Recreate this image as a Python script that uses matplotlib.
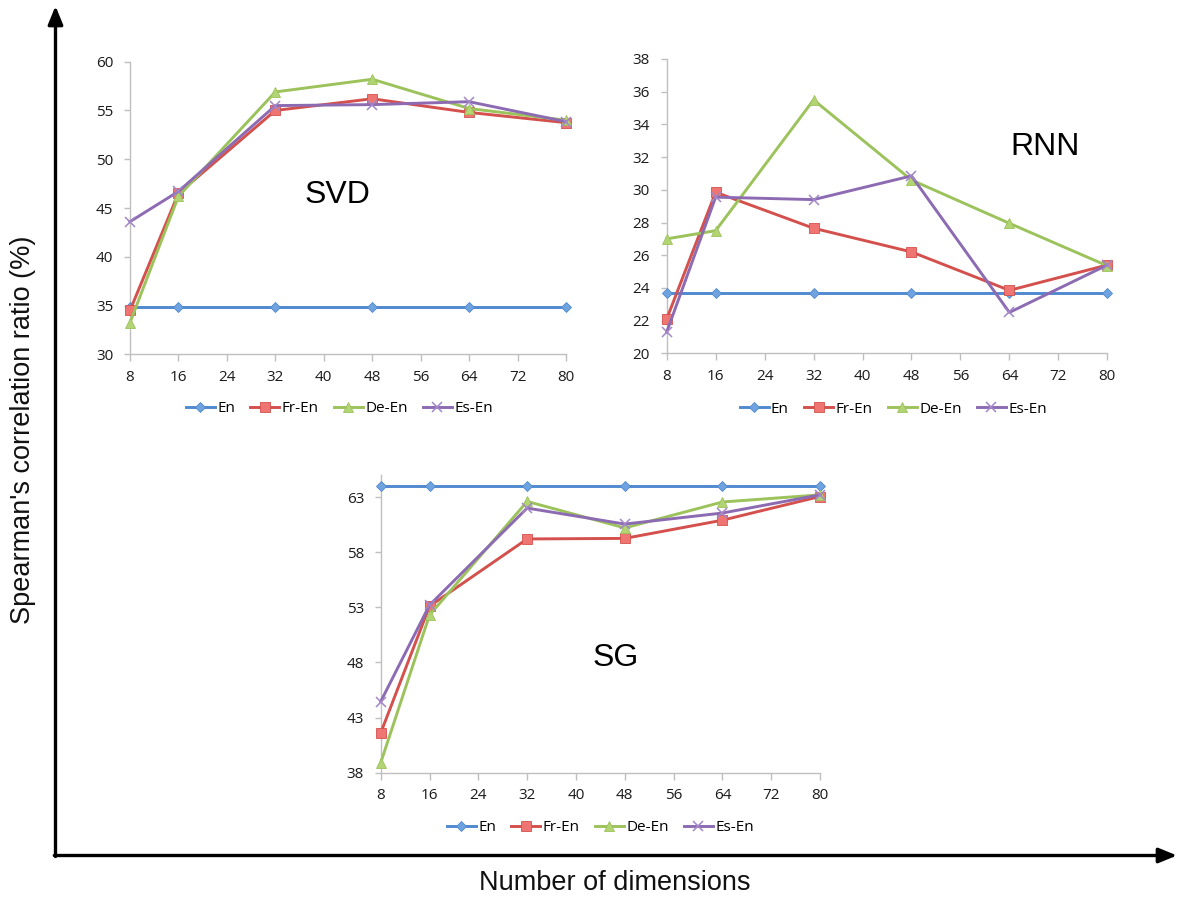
import matplotlib
matplotlib.use("Agg")
import matplotlib.pyplot as plt
import numpy as np

dims = [8, 16, 32, 48, 64, 80]
series_names = ["En", "Fr-En", "De-En", "Es-En"]

svd_en = [34.9, 34.9, 34.9, 34.9, 34.9, 34.9]
svd_fr = [34.5, 46.5, 55.0, 56.2, 54.8, 53.75]
svd_de = [33.25, 46.2, 56.9, 58.2, 55.2, 54.0]
svd_es = [43.6, 46.7, 55.5, 55.6, 55.9, 53.85]

rnn_en = [23.67, 23.67, 23.67, 23.67, 23.67, 23.67]
rnn_fr = [22.1, 29.85, 27.65, 26.2, 23.85, 25.4]
rnn_de = [27.0, 27.5, 35.5, 30.6, 27.95, 25.35]
rnn_es = [21.3, 29.55, 29.4, 30.85, 22.5, 25.4]

sg_en = [64.0, 64.0, 64.0, 64.0, 64.0, 64.0]
sg_fr = [41.6, 53.1, 59.2, 59.25, 60.9, 63.05]
sg_de = [38.9, 52.3, 62.6, 60.2, 62.55, 63.2]
sg_es = [44.45, 53.2, 62.0, 60.55, 61.55, 63.2]

xticks = list(range(8, 81, 8))
svd_yticks = list(range(30, 61, 5))
rnn_yticks = list(range(20, 39, 2))
sg_yticks = list(range(38, 64, 5))

colors = ["#5089CF", "#D4504D", "#9CC35B", "#8C6BB3"]
faces = ["#6FA3E0", "#EE7572", "#B2D473", "#A386C8"]
markers = ["D", "s", "^", "x"]
msizes = [5.5, 6.5, 7, 7]

W, H = 1177, 900
fig = plt.figure(figsize=(W / 100, H / 100), dpi=100)

def px_axes(left, top, right, bottom):
    return fig.add_axes([left / W, 1 - bottom / H, (right - left) / W, (bottom - top) / H])

# decorative outer arrows
ov = fig.add_axes([0, 0, 1, 1], zorder=0)
ov.set_xlim(0, W)
ov.set_ylim(H, 0)
ov.axis("off")
ov.annotate("", xy=(55.5, 6), xytext=(55.5, 856.5),
            arrowprops=dict(arrowstyle="-|>,head_length=1.1,head_width=0.45", lw=2.4, color="black", shrinkA=0, shrinkB=0))
ov.annotate("", xy=(1177, 855.5), xytext=(54.3, 855.5),
            arrowprops=dict(arrowstyle="-|>,head_length=1.1,head_width=0.45", lw=2.4, color="black", shrinkA=0, shrinkB=0))
ov.text(23, 430, "Spearman's correlation ratio (%)", rotation=90, ha="center", va="center",
        fontsize=19.5, family="Liberation Sans", color="#111111")
ov.text(615, 883, "Number of dimensions", ha="center", va="center",
        fontsize=19.5, family="Liberation Sans", color="#111111")

def draw(ax, data, ylim, yticks, label, label_xy, leg_anchor):
    for i, ys in enumerate(data):
        mk = markers[i]
        if mk == "x":
            ax.plot(dims, ys, color=colors[i], lw=2.1, marker=mk, ms=msizes[i], mew=1.1,
                    mec=faces[i], label=series_names[i], clip_on=False, zorder=3 + i)
        else:
            ax.plot(dims, ys, color=colors[i], lw=2.1, marker=mk, ms=msizes[i],
                    mfc=faces[i], mec=colors[i], mew=0.6, label=series_names[i],
                    clip_on=False, zorder=3 + i)
    ax.set_xlim(8, 80)
    ax.set_ylim(*ylim)
    ax.set_xticks(xticks)
    ax.set_yticks(yticks)
    for s in ["top", "right"]:
        ax.spines[s].set_visible(False)
    for s in ["left", "bottom"]:
        ax.spines[s].set_color("#BFBFBF")
        ax.spines[s].set_linewidth(1.0)
    ax.tick_params(axis="both", colors="#BFBFBF", labelcolor="#1a1a1a", labelsize=11, width=1.0)
    ax.tick_params(axis="y", length=4, pad=8)
    ax.tick_params(axis="x", length=5, pad=6)
    for t in ax.get_xticklabels() + ax.get_yticklabels():
        t.set_family("Open Sans")
    ax.text(label_xy[0], label_xy[1], label, transform=ax.transAxes, ha="center", va="center",
            fontsize=23, family="Liberation Sans", color="black")
    leg = ax.legend(loc="center", bbox_to_anchor=leg_anchor, ncol=4, frameon=False,
                    handlelength=1.9, handletextpad=0.15, columnspacing=1.0,
                    prop={"family": "Open Sans", "size": 11})
    return leg

ax1 = px_axes(130, 61.7, 566, 354.3)
draw(ax1, [svd_en, svd_fr, svd_de, svd_es], (30, 60), svd_yticks, "SVD",
     ((337 - 130) / 436, 1 - (195 - 61.7) / 292.6), (0.48, -0.185))

ax2 = px_axes(666.7, 59, 1107.3, 353.3)
draw(ax2, [rnn_en, rnn_fr, rnn_de, rnn_es], (20, 38), rnn_yticks, "RNN",
     ((1045 - 666.7) / 440.6, 1 - (147 - 59) / 294.3), (0.514, -0.19))

ax3 = px_axes(380.7, 475, 820, 772.7)
draw(ax3, [sg_en, sg_fr, sg_de, sg_es], (38, 65), sg_yticks, "SG",
     ((616 - 380.7) / 439.3, 1 - (658 - 475) / 297.7), (0.5, -0.185))

fig.savefig("out.png", dpi=100)
